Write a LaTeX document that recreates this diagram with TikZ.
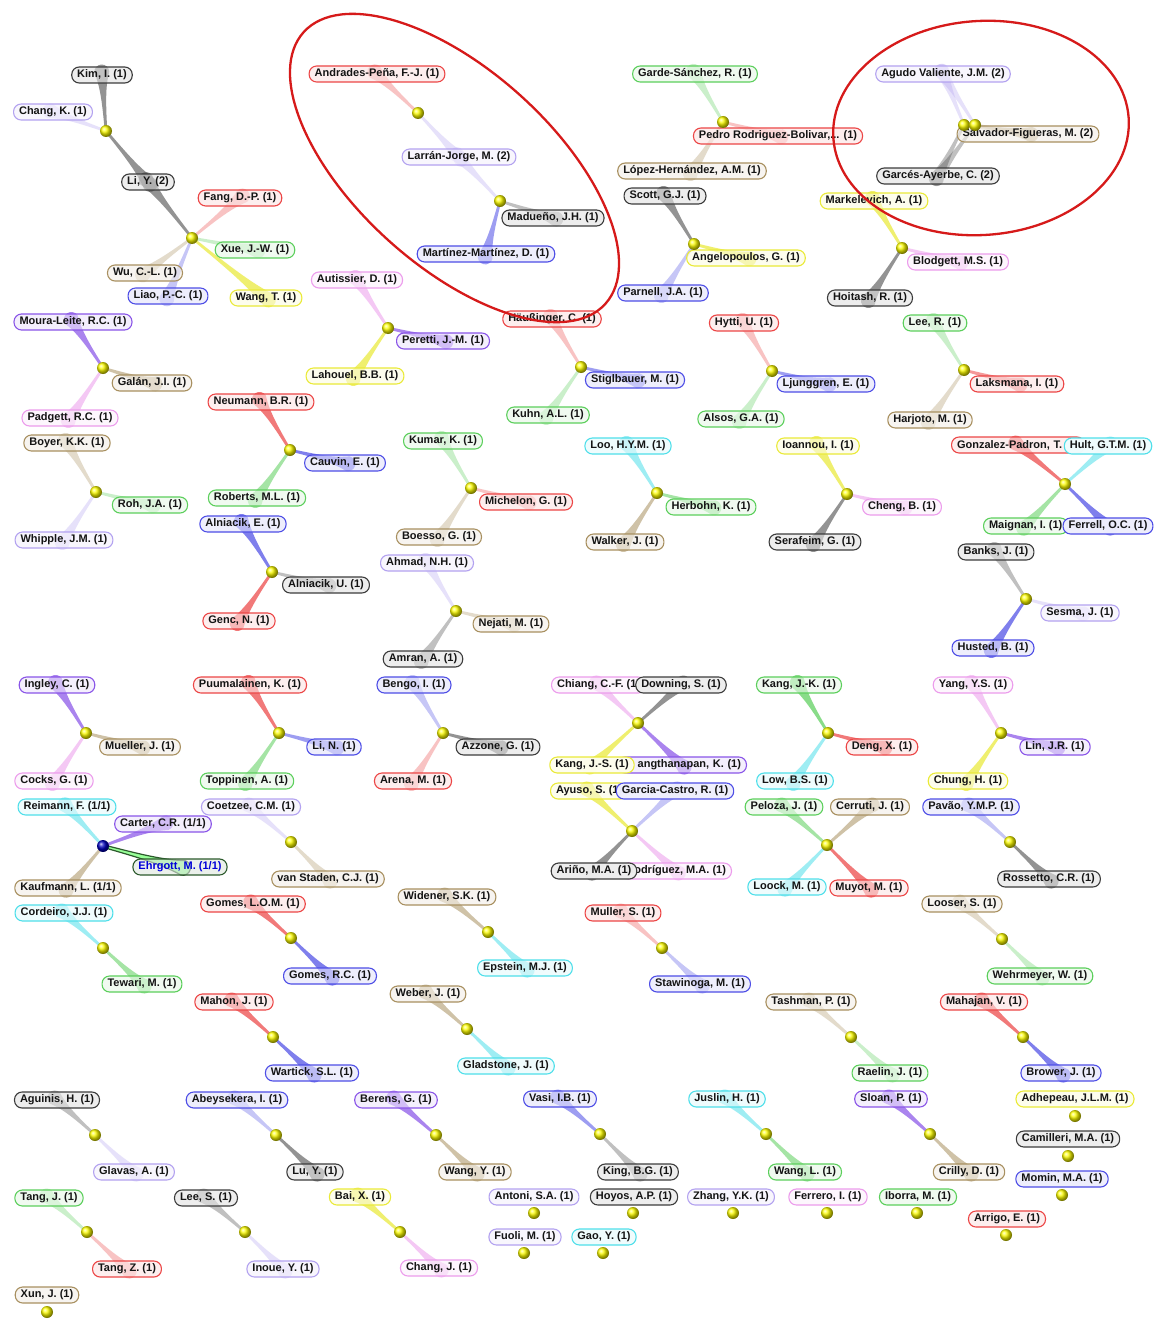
\documentclass[tikz,border=0pt]{standalone}
\usepackage{fontspec}
\setmainfont{Liberation Sans}
\usetikzlibrary{calc,shadings}
\pgfdeclarelayer{bg}
\pgfsetlayers{bg,main}

% author colours (border and flow)
\definecolor{cR}{HTML}{EC4646}
\definecolor{cK}{HTML}{3C3C3C}
\definecolor{cB}{HTML}{4E4EE6}
\definecolor{cG}{HTML}{5CCF5C}
\definecolor{cN}{HTML}{A89060}
\definecolor{cP}{HTML}{8A55E8}
\definecolor{cL}{HTML}{B3A2F0}
\definecolor{cI}{HTML}{EC9CEC}
\definecolor{cY}{HTML}{EAEA38}
\definecolor{cC}{HTML}{4FDFEA}
\definecolor{cE}{HTML}{2C5A2C}
\definecolor{ringred}{HTML}{D61A1A}

% tapered flow from a hub to an author label
\newcommand\lnk[3][]{%
  \begin{pgfonlayer}{bg}
    \path[flow,#1] let \p1=($(#3)-(#2)$), \n1={atan2(\y1,\x1)} in
      ($(#2)+(\n1+90:1.3pt)$)
      .. controls ($(#2)!0.5!(#3)+(\n1+90:1.7pt)$) and ($(#2)!0.8!(#3)+(\n1+90:2.6pt)$) ..
      ($(#3)+(\n1:3pt)+(\n1+90:7.5pt)$)
      arc[start angle=\n1+90, end angle=\n1-90, radius=7.5pt]
      .. controls ($(#2)!0.8!(#3)+(\n1-90:2.6pt)$) and ($(#2)!0.5!(#3)+(\n1-90:1.7pt)$) ..
      ($(#2)+(\n1-90:1.3pt)$) -- cycle;
  \end{pgfonlayer}}

\begin{document}
\begin{tikzpicture}[x=1pt,y=-1pt,
  lab/.style={draw=#1, fill=#1!15, fill opacity=0.6, text opacity=1, text=black!92,
    line width=1.1pt, rounded corners=7.5pt, minimum height=16pt, inner xsep=5.5pt,
    inner ysep=1pt, font=\bfseries\fontsize{11}{13}\selectfont},
  cover/.style={preaction={fill=white, fill opacity=0.95}},
  hub/.style={circle, inner sep=0pt, minimum size=12pt, shading=ball, ball color=#1},
  hub/.default=yellow,
  flow/.style={fill, fill opacity=0.55},
  faint/.style={fill opacity=0.32},
  strong/.style={fill opacity=0.72},
  ring/.style={draw=ringred, line width=2.3pt}]

\begin{pgfonlayer}{bg}
  \fill[white] (0,0) rectangle (1157,1319);
\end{pgfonlayer}
\useasboundingbox (0,0) rectangle (1157,1319);

% ---------- author labels ----------
\node[lab=cK] (kim) at (102,75) {Kim, I. (1)};
\node[lab=cL] (changk) at (53,112) {Chang, K. (1)};
\node[lab=cK] (liy) at (148,182) {Li, Y. (2)};
\node[lab=cR] (fang) at (240,198) {Fang, D.-P. (1)};
\node[lab=cG] (xue) at (255,250) {Xue, J.-W. (1)};
\node[lab=cN] (wucl) at (145,273) {Wu, C.-L. (1)};
\node[lab=cB] (liao) at (168,296) {Liao, P.-C. (1)};
\node[lab=cY] (wangt) at (266,298) {Wang, T. (1)};

\node[lab=cR] (andr) at (377,74) {Andrades-Peña, F.-J. (1)};
\node[lab=cL] (larran) at (459,157) {Larrán-Jorge, M. (2)};
\node[lab=cK] (madueno) at (553,218) {Madueño, J.H. (1)};
\node[lab=cB] (martinez) at (486,254) {Martínez-Martínez, D. (1)};

\node[lab=cG] (garde) at (695,74) {Garde-Sánchez, R. (1)};
\node[lab=cR] (pedro) at (778,136) {Pedro Rodriguez-Bolivar,... (1)};
\node[lab=cN] (lopez) at (692,171) {López-Hernández, A.M. (1)};

\node[lab=cL] (agudo) at (943,74) {Agudo Valiente, J.M. (2)};
\node[lab=cN] (salvador) at (1028,134) {Salvador-Figueras, M. (2)};
\node[lab=cK] (garces) at (938,176) {Garcés-Ayerbe, C. (2)};

\node[lab=cK] (scott) at (665,196) {Scott, G.J. (1)};
\node[lab=cY] (angelo) at (746,258) {Angelopoulos, G. (1)};
\node[lab=cB] (parnell) at (663,293) {Parnell, J.A. (1)};

\node[lab=cY] (markel) at (874,201) {Markelevich, A. (1)};
\node[lab=cI] (blodgett) at (958,262) {Blodgett, M.S. (1)};
\node[lab=cK] (hoitash) at (870,298) {Hoitash, R. (1)};

\node[lab=cI] (autissier) at (357,280) {Autissier, D. (1)};
\node[lab=cP] (peretti) at (443,341) {Peretti, J.-M. (1)};
\node[lab=cY] (lahouel) at (355,376) {Lahouel, B.B. (1)};

\node[lab=cR] (haus) at (552,319) {Häußinger, C. (1)};
\node[lab=cB] (stigl) at (635,380) {Stiglbauer, M. (1)};
\node[lab=cG] (kuhn) at (548,415) {Kuhn, A.L. (1)};

\node[lab=cR] (hytti) at (744,323) {Hytti, U. (1)};
\node[lab=cB] (ljung) at (826,384) {Ljunggren, E. (1)};
\node[lab=cG] (alsos) at (741,419) {Alsos, G.A. (1)};

\node[lab=cG] (leer) at (935,323) {Lee, R. (1)};
\node[lab=cR] (laksmana) at (1017,384) {Laksmana, I. (1)};
\node[lab=cN] (harjoto) at (930,420) {Harjoto, M. (1)};

\node[lab=cP] (moura) at (73,322) {Moura-Leite, R.C. (1)};
\node[lab=cN] (galan) at (152,383) {Galán, J.I. (1)};
\node[lab=cI] (padgett) at (70,418) {Padgett, R.C. (1)};

\node[lab=cN] (boyer) at (67,443) {Boyer, K.K. (1)};
\node[lab=cG] (roh) at (150,505) {Roh, J.A. (1)};
\node[lab=cL] (whipple) at (64,540) {Whipple, J.M. (1)};

\node[lab=cR] (neumann) at (261,402) {Neumann, B.R. (1)};
\node[lab=cB] (cauvin) at (345,463) {Cauvin, E. (1)};
\node[lab=cG] (roberts) at (257,498) {Roberts, M.L. (1)};

\node[lab=cB] (alne) at (243,524) {Alniacik, E. (1)};
\node[lab=cK] (alnu) at (326,585) {Alniacik, U. (1)};
\node[lab=cR] (genc) at (239,621) {Genc, N. (1)};

\node[lab=cG] (kumar) at (443,441) {Kumar, K. (1)};
\node[lab=cR] (michelon) at (526,502) {Michelon, G. (1)};
\node[lab=cN] (boesso) at (439,537) {Boesso, G. (1)};

\node[lab=cL] (ahmad) at (427,563) {Ahmad, N.H. (1)};
\node[lab=cN] (nejati) at (511,624) {Nejati, M. (1)};
\node[lab=cK] (amran) at (423,659) {Amran, A. (1)};

\node[lab=cC] (loo) at (628,446) {Loo, H.Y.M. (1)};
\node[lab=cG] (herbohn) at (711,507) {Herbohn, K. (1)};
\node[lab=cN] (walker) at (625,542) {Walker, J. (1)};

\node[lab=cY] (ioannou) at (818,446) {Ioannou, I. (1)};
\node[lab=cI] (cheng) at (902,507) {Cheng, B. (1)};
\node[lab=cK] (serafeim) at (815,542) {Serafeim, G. (1)};

\node[lab=cR, anchor=west, text width=122pt, align=left] (gonz) at (951,445) {Gonzalez-Padron, T.};
\node[lab=cC, cover] (hult) at (1108,446) {Hult, G.T.M. (1)};
\node[lab=cG, anchor=west] (maignan) at (983,526) {Maignan, I. (1)};
\node[lab=cB, cover] (ferrell) at (1108,526) {Ferrell, O.C. (1)};

\node[lab=cK] (banks) at (996,552) {Banks, J. (1)};
\node[lab=cL] (sesma) at (1080,613) {Sesma, J. (1)};
\node[lab=cB] (husted) at (993,648) {Husted, B. (1)};

\node[lab=cP] (ingley) at (57,685) {Ingley, C. (1)};
\node[lab=cN] (mueller) at (140,747) {Mueller, J. (1)};
\node[lab=cI] (cocks) at (54,781) {Cocks, G. (1)};

\node[lab=cR] (puuma) at (250,685) {Puumalainen, K. (1)};
\node[lab=cB] (lin) at (334,747) {Li, N. (1)};
\node[lab=cG] (toppinen) at (247,781) {Toppinen, A. (1)};

\node[lab=cB] (bengo) at (414,685) {Bengo, I. (1)};
\node[lab=cK] (azzone) at (498,747) {Azzone, G. (1)};
\node[lab=cR] (arena) at (413,781) {Arena, M. (1)};

\node[lab=cI, anchor=west] (chiang) at (551,685) {Chiang, C.-F. (1)};
\node[lab=cK, cover] (downing) at (681,685) {Downing, S. (1)};
\node[lab=cP, anchor=east, text width=118pt, align=right] (angth) at (747,765) {angthanapan, K. (1)};
\node[lab=cY, cover] (kangjs) at (592,765) {Kang, J.-S. (1)};

\node[lab=cY, anchor=west] (ayuso) at (550,791) {Ayuso, S. (1)};
\node[lab=cB, cover] (garcia) at (675,791) {Garcia-Castro, R. (1)};
\node[lab=cI, anchor=east] (rodriguez) at (732,871) {Rodríguez, M.A. (1)};
\node[lab=cK, cover] (arino) at (594,871) {Ariño, M.A. (1)};

\node[lab=cG] (kangjk) at (799,685) {Kang, J.-K. (1)};
\node[lab=cR] (deng) at (882,747) {Deng, X. (1)};
\node[lab=cC] (low) at (795,781) {Low, B.S. (1)};

\node[lab=cI] (yang) at (973,685) {Yang, Y.S. (1)};
\node[lab=cP] (linjr) at (1055,747) {Lin, J.R. (1)};
\node[lab=cY] (chung) at (968,781) {Chung, H. (1)};

\node[lab=cC] (reimann) at (67,807) {Reimann, F. (1/1)};
\node[lab=cP] (carter) at (163,824) {Carter, C.R. (1/1)};
\node[lab=cE, text=blue!85!black] (ehrgott) at (180,867) {Ehrgott, M. (1/1)};
\node[lab=cN] (kaufmann) at (68,888) {Kaufmann, L. (1/1)};

\node[lab=cG] (peloza) at (784,807) {Peloza, J. (1)};
\node[lab=cN] (cerruti) at (870,807) {Cerruti, J. (1)};
\node[lab=cC] (loock) at (787,887) {Loock, M. (1)};
\node[lab=cR] (muyot) at (869,888) {Muyot, M. (1)};

\node[lab=cL] (coetzee) at (251,807) {Coetzee, C.M. (1)};
\node[lab=cN] (vanstaden) at (328,879) {van Staden, C.J. (1)};
\node[lab=cB] (pavao) at (971,807) {Pavão, Y.M.P. (1)};
\node[lab=cK] (rossetto) at (1049,879) {Rossetto, C.R. (1)};
\node[lab=cC] (cordeiro) at (64,913) {Cordeiro, J.J. (1)};
\node[lab=cG] (tewari) at (142,984) {Tewari, M. (1)};
\node[lab=cR] (gomesl) at (253,904) {Gomes, L.O.M. (1)};
\node[lab=cB] (gomesr) at (330,976) {Gomes, R.C. (1)};
\node[lab=cN] (widener) at (447,897) {Widener, S.K. (1)};
\node[lab=cC] (epstein) at (525,968) {Epstein, M.J. (1)};
\node[lab=cR] (muller) at (623,913) {Muller, S. (1)};
\node[lab=cB] (stawinoga) at (700,984) {Stawinoga, M. (1)};
\node[lab=cN] (looser) at (962,904) {Looser, S. (1)};
\node[lab=cG] (wehrmeyer) at (1040,976) {Wehrmeyer, W. (1)};
\node[lab=cR] (mahon) at (234,1002) {Mahon, J. (1)};
\node[lab=cB] (wartick) at (312,1073) {Wartick, S.L. (1)};
\node[lab=cN] (weber) at (428,994) {Weber, J. (1)};
\node[lab=cC] (gladstone) at (506,1066) {Gladstone, J. (1)};
\node[lab=cN] (tashman) at (811,1002) {Tashman, P. (1)};
\node[lab=cG] (raelin) at (890,1073) {Raelin, J. (1)};
\node[lab=cR] (mahajan) at (984,1002) {Mahajan, V. (1)};
\node[lab=cB] (brower) at (1061,1073) {Brower, J. (1)};
\node[lab=cK] (aguinis) at (57,1100) {Aguinis, H. (1)};
\node[lab=cL] (glavas) at (134,1172) {Glavas, A. (1)};
\node[lab=cB] (abeys) at (237,1100) {Abeysekera, I. (1)};
\node[lab=cK] (luy) at (315,1172) {Lu, Y. (1)};
\node[lab=cP] (berens) at (396,1100) {Berens, G. (1)};
\node[lab=cN] (wangy) at (475,1172) {Wang, Y. (1)};
\node[lab=cB] (vasi) at (560,1099) {Vasi, I.B. (1)};
\node[lab=cK] (king) at (638,1172) {King, B.G. (1)};
\node[lab=cC] (juslin) at (727,1099) {Juslin, H. (1)};
\node[lab=cG] (wangl) at (805,1172) {Wang, L. (1)};
\node[lab=cP] (sloan) at (891,1099) {Sloan, P. (1)};
\node[lab=cN] (crilly) at (969,1172) {Crilly, D. (1)};
\node[lab=cG] (tangj) at (49,1198) {Tang, J. (1)};
\node[lab=cR] (tangz) at (127,1269) {Tang, Z. (1)};
\node[lab=cK] (lees) at (206,1198) {Lee, S. (1)};
\node[lab=cL] (inoue) at (283,1269) {Inoue, Y. (1)};
\node[lab=cY] (bai) at (360,1197) {Bai, X. (1)};
\node[lab=cI] (changj) at (439,1268) {Chang, J. (1)};

% single authors
\node[lab=cL] (antoni) at (534,1197) {Antoni, S.A. (1)};
\node[lab=cK] (hoyos) at (634,1197) {Hoyos, A.P. (1)};
\node[lab=cL] (zhang) at (731,1197) {Zhang, Y.K. (1)};
\node[lab=cI] (ferrero) at (828,1197) {Ferrero, I. (1)};
\node[lab=cG] (iborra) at (918,1197) {Iborra, M. (1)};
\node[lab=cL] (fuoli) at (525,1237) {Fuoli, M. (1)};
\node[lab=cC] (gao) at (604,1237) {Gao, Y. (1)};
\node[lab=cY] (adhepeau) at (1075,1099) {Adhepeau, J.L.M. (1)};
\node[lab=cK] (camilleri) at (1068,1139) {Camilleri, M.A. (1)};
\node[lab=cB] (momin) at (1062,1179) {Momin, M.A. (1)};
\node[lab=cR] (arrigo) at (1007,1219) {Arrigo, E. (1)};
\node[lab=cN] (xun) at (47,1295) {Xun, J. (1)};

% ---------- hubs ----------
\node[hub] (bA1) at (106,131) {};
\node[hub] (bA2) at (192,238) {};
\node[hub] (bB1) at (418,113) {};
\node[hub] (bB2) at (500,201) {};
\node[hub] (bC) at (723,122) {};
\node[hub] (bD1) at (964,125) {};
\node[hub] (bD2) at (975,125) {};
\node[hub] (bE) at (694,244) {};
\node[hub] (bF) at (902,248) {};
\node[hub] (bG) at (388,328) {};
\node[hub] (bH) at (581,367) {};
\node[hub] (bI) at (772,371) {};
\node[hub] (bJ) at (964,370) {};
\node[hub] (bK) at (103,368) {};
\node[hub] (bL) at (96,492) {};
\node[hub] (bM) at (290,450) {};
\node[hub] (bN) at (272,572) {};
\node[hub] (bO) at (471,488) {};
\node[hub] (bP) at (456,611) {};
\node[hub] (bQ) at (657,493) {};
\node[hub] (bR) at (847,494) {};
\node[hub] (bS) at (1065,484) {};
\node[hub] (bT) at (1026,599) {};
\node[hub] (bU) at (86,733) {};
\node[hub] (bV) at (279,733) {};
\node[hub] (bW) at (443,733) {};
\node[hub] (bX) at (638,723) {};
\node[hub] (bY) at (632,831) {};
\node[hub] (bZ) at (828,733) {};
\node[hub] (bAA) at (1001,733) {};
\node[hub=blue!75!black] (bAB) at (103,846) {};
\node[hub] (bAC) at (827,845) {};
\node[hub] (h1) at (291,842) {};
\node[hub] (h2) at (1010,842) {};
\node[hub] (h3) at (103,948) {};
\node[hub] (h4) at (291,938) {};
\node[hub] (h5) at (488,932) {};
\node[hub] (h6) at (662,948) {};
\node[hub] (h7) at (1002,939) {};
\node[hub] (h8) at (273,1037) {};
\node[hub] (h9) at (467,1029) {};
\node[hub] (h10) at (851,1037) {};
\node[hub] (h11) at (1023,1037) {};
\node[hub] (h12) at (95,1135) {};
\node[hub] (h13) at (276,1135) {};
\node[hub] (h14) at (436,1135) {};
\node[hub] (h15) at (600,1134) {};
\node[hub] (h16) at (766,1134) {};
\node[hub] (h17) at (930,1134) {};
\node[hub] (h18) at (87,1232) {};
\node[hub] (h19) at (245,1232) {};
\node[hub] (h20) at (400,1232) {};
\node[hub] (s1) at (534,1213) {};
\node[hub] (s2) at (633,1213) {};
\node[hub] (s3) at (733,1213) {};
\node[hub] (s4) at (827,1213) {};
\node[hub] (s5) at (917,1213) {};
\node[hub] (s6) at (524,1253) {};
\node[hub] (s7) at (603,1253) {};
\node[hub] (s8) at (1075,1116) {};
\node[hub] (s9) at (1068,1156) {};
\node[hub] (s10) at (1062,1195) {};
\node[hub] (s11) at (1006,1235) {};
\node[hub] (s12) at (47,1312) {};

% ---------- flows ----------
\lnk[cK]{bA1}{kim} \lnk[cL,faint]{bA1}{changk} \lnk[cK]{bA1}{liy}
\lnk[cK]{bA2}{liy} \lnk[cR,faint]{bA2}{fang} \lnk[cG,faint]{bA2}{xue}
\lnk[cN,faint]{bA2}{wucl} \lnk[cB,faint]{bA2}{liao} \lnk[cY,strong]{bA2}{wangt}
\lnk[cR,faint]{bB1}{andr} \lnk[cL,faint]{bB1}{larran} \lnk[cL,faint]{bB2}{larran}
\lnk[cK,faint]{bB2}{madueno} \lnk[cB]{bB2}{martinez}
\lnk[cG,faint]{bC}{garde} \lnk[cR,faint]{bC}{pedro} \lnk[cN,faint]{bC}{lopez}
\lnk[cL,faint]{bD1}{agudo} \lnk[cK,faint]{bD1}{garces} \lnk[cN,faint]{bD1}{salvador}
\lnk[cL,faint]{bD2}{agudo} \lnk[cK,faint]{bD2}{garces} \lnk[cN,faint]{bD2}{salvador}
\lnk[cK]{bE}{scott} \lnk[cY,strong]{bE}{angelo} \lnk[cB,faint]{bE}{parnell}
\lnk[cY,strong]{bF}{markel} \lnk[cI]{bF}{blodgett} \lnk[cK]{bF}{hoitash}
\lnk[cI]{bG}{autissier} \lnk[cP,strong]{bG}{peretti} \lnk[cY,strong]{bG}{lahouel}
\lnk[cR,faint]{bH}{haus} \lnk[cB]{bH}{stigl} \lnk[cG,faint]{bH}{kuhn}
\lnk[cR,faint]{bI}{hytti} \lnk[cB]{bI}{ljung} \lnk[cG,faint]{bI}{alsos}
\lnk[cG,faint]{bJ}{leer} \lnk[cR]{bJ}{laksmana} \lnk[cN,faint]{bJ}{harjoto}
\lnk[cP,strong]{bK}{moura} \lnk[cN]{bK}{galan} \lnk[cI]{bK}{padgett}
\lnk[cN,faint]{bL}{boyer} \lnk[cG,faint]{bL}{roh} \lnk[cL,faint]{bL}{whipple}
\lnk[cR,strong]{bM}{neumann} \lnk[cB,strong]{bM}{cauvin} \lnk[cG]{bM}{roberts}
\lnk[cB,strong]{bN}{alne} \lnk[cK,faint]{bN}{alnu} \lnk[cR,strong]{bN}{genc}
\lnk[cG,faint]{bO}{kumar} \lnk[cR,faint]{bO}{michelon} \lnk[cN,faint]{bO}{boesso}
\lnk[cL,faint]{bP}{ahmad} \lnk[cN,faint]{bP}{nejati} \lnk[cK,faint]{bP}{amran}
\lnk[cC]{bQ}{loo} \lnk[cG]{bQ}{herbohn} \lnk[cN]{bQ}{walker}
\lnk[cY,strong]{bR}{ioannou} \lnk[cI]{bR}{cheng} \lnk[cK]{bR}{serafeim}
\lnk[cR,strong]{bS}{gonz} \lnk[cC]{bS}{hult} \lnk[cG]{bS}{maignan} \lnk[cB,strong]{bS}{ferrell}
\lnk[cK,faint]{bT}{banks} \lnk[cL,faint]{bT}{sesma} \lnk[cB,strong]{bT}{husted}
\lnk[cP,strong]{bU}{ingley} \lnk[cN]{bU}{mueller} \lnk[cI]{bU}{cocks}
\lnk[cR,strong]{bV}{puuma} \lnk[cB]{bV}{lin} \lnk[cG]{bV}{toppinen}
\lnk[cB,faint]{bW}{bengo} \lnk[cK]{bW}{azzone} \lnk[cR,faint]{bW}{arena}
\lnk[cI]{bX}{chiang} \lnk[cK]{bX}{downing} \lnk[cY,strong]{bX}{kangjs} \lnk[cP,strong]{bX}{angth}
\lnk[cY,strong]{bY}{ayuso} \lnk[cB,faint]{bY}{garcia} \lnk[cK]{bY}{arino} \lnk[cI]{bY}{rodriguez}
\lnk[cG,strong]{bZ}{kangjk} \lnk[cR,strong]{bZ}{deng} \lnk[cC]{bZ}{low}
\lnk[cI]{bAA}{yang} \lnk[cP,strong]{bAA}{linjr} \lnk[cY,strong]{bAA}{chung}
\lnk[cC]{bAB}{reimann} \lnk[cP,strong]{bAB}{carter} \lnk[cN]{bAB}{kaufmann}
\lnk[fill=green!45!white, fill opacity=0.9, draw=cE, line width=1.2pt]{bAB}{ehrgott}
\lnk[cG]{bAC}{peloza} \lnk[cN]{bAC}{cerruti} \lnk[cC]{bAC}{loock} \lnk[cR,strong]{bAC}{muyot}
\lnk[cL,faint]{h1}{coetzee} \lnk[cN,faint]{h1}{vanstaden}
\lnk[cB,faint]{h2}{pavao} \lnk[cK]{h2}{rossetto}
\lnk[cC]{h3}{cordeiro} \lnk[cG]{h3}{tewari}
\lnk[cR,strong]{h4}{gomesl} \lnk[cB,strong]{h4}{gomesr}
\lnk[cN]{h5}{widener} \lnk[cC]{h5}{epstein}
\lnk[cR,faint]{h6}{muller} \lnk[cB,faint]{h6}{stawinoga}
\lnk[cN,faint]{h7}{looser} \lnk[cG,faint]{h7}{wehrmeyer}
\lnk[cR,strong]{h8}{mahon} \lnk[cB,strong]{h8}{wartick}
\lnk[cN]{h9}{weber} \lnk[cC]{h9}{gladstone}
\lnk[cN,faint]{h10}{tashman} \lnk[cG,faint]{h10}{raelin}
\lnk[cR,strong]{h11}{mahajan} \lnk[cB,strong]{h11}{brower}
\lnk[cK,faint]{h12}{aguinis} \lnk[cL,faint]{h12}{glavas}
\lnk[cB,faint]{h13}{abeys} \lnk[cK]{h13}{luy}
\lnk[cP,strong]{h14}{berens} \lnk[cN]{h14}{wangy}
\lnk[cB]{h15}{vasi} \lnk[cK,faint]{h15}{king}
\lnk[cC]{h16}{juslin} \lnk[cG]{h16}{wangl}
\lnk[cP,strong]{h17}{sloan} \lnk[cN]{h17}{crilly}
\lnk[cG,faint]{h18}{tangj} \lnk[cR,faint]{h18}{tangz}
\lnk[cK,faint]{h19}{lees} \lnk[cL,faint]{h19}{inoue}
\lnk[cY,strong]{h20}{bai} \lnk[cI]{h20}{changj}

% ---------- highlighted clusters ----------
\draw[ring, rotate around={-42:(454.5,168)}] (454.5,168) ellipse [x radius=203pt, y radius=98pt];
\draw[ring, rotate around={4:(981,128)}] (981,128) ellipse [x radius=148pt, y radius=107pt];

\end{tikzpicture}
\end{document}
